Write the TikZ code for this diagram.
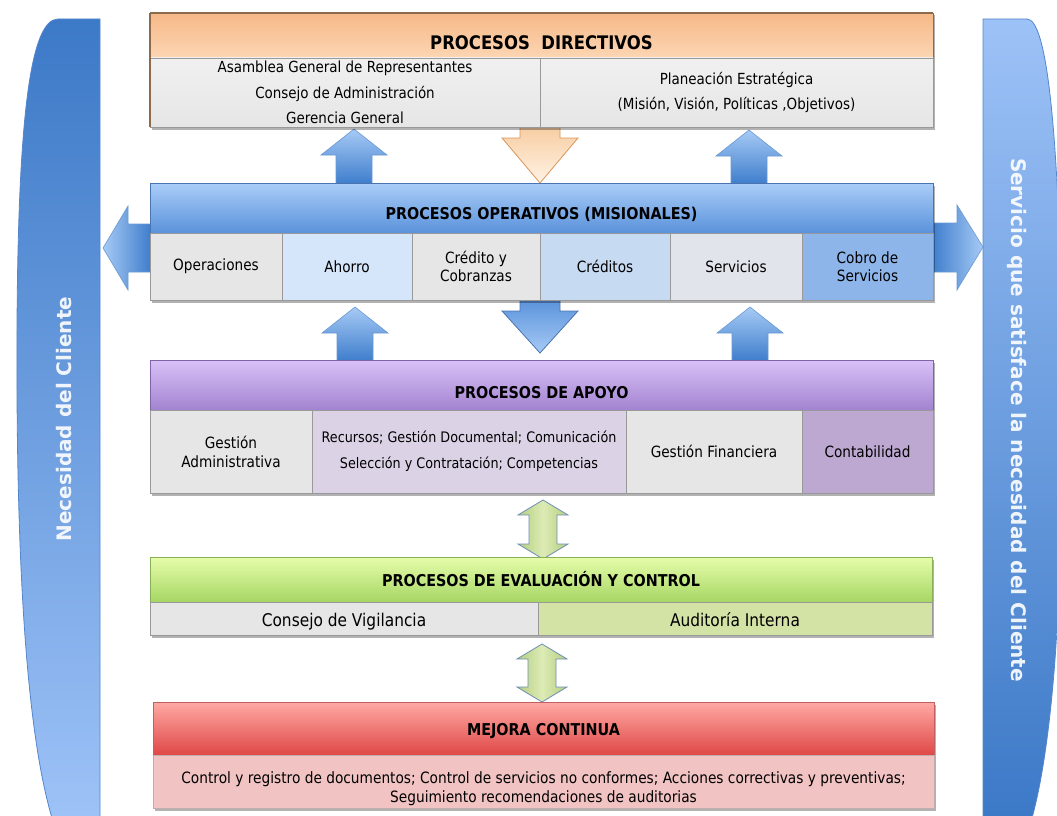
\documentclass[tikz,border=0pt]{standalone}
\usepackage{fontspec}
\setmainfont{DejaVu Sans}[FakeStretch=0.88]
\newfontfamily\sidefont{DejaVu Sans}
\usetikzlibrary{shadows}

% palette
\definecolor{dirTop}{HTML}{F6B887}
\definecolor{dirBot}{HTML}{FCD6B4}
\definecolor{dirRim}{HTML}{8B6B4E}
\definecolor{opTop}{HTML}{AACDF8}
\definecolor{opBot}{HTML}{5A92DB}
\definecolor{opRim}{HTML}{4A74B0}
\definecolor{apTop}{HTML}{D9C1F8}
\definecolor{apBot}{HTML}{A283CF}
\definecolor{apRim}{HTML}{7F64A8}
\definecolor{evTop}{HTML}{E6FDAA}
\definecolor{evBot}{HTML}{A6D664}
\definecolor{evRim}{HTML}{8AAE5A}
\definecolor{mcTop}{HTML}{FFA9A5}
\definecolor{mcBot}{HTML}{DF4846}
\definecolor{mcRim}{HTML}{C06060}
\definecolor{cellGray}{HTML}{E6E6E6}
\definecolor{cellAhorro}{HTML}{D6E6FA}
\definecolor{cellCred}{HTML}{C6DAF2}
\definecolor{cellServ}{HTML}{E1E5EB}
\definecolor{cellCobro}{HTML}{8EB5E9}
\definecolor{cellRec}{HTML}{DCD2E6}
\definecolor{cellCont}{HTML}{BDA8D2}
\definecolor{cellAud}{HTML}{D3E2A5}
\definecolor{cellMej}{HTML}{F2C3C3}
\definecolor{bandDark}{HTML}{3C79C7}
\definecolor{bandLight}{HTML}{9DC2F7}
\definecolor{bandRim}{HTML}{5586CC}
\definecolor{arrLight}{HTML}{A6CAF5}
\definecolor{arrDark}{HTML}{3E7DCC}
\definecolor{arrRim}{HTML}{6A98D4}
\definecolor{grnLight}{HTML}{DDEBB5}
\definecolor{grnDark}{HTML}{B5CE80}
\definecolor{grnRim}{HTML}{6F8FB5}
\definecolor{crmTop}{HTML}{F7CDA2}
\definecolor{crmBot}{HTML}{FFF2E4}
\definecolor{crmRim}{HTML}{D9955A}

\tikzset{
  every node/.style={inner sep=0pt, outer sep=0pt},
  cellbox/.style={draw=black!40, line width=0.8pt, anchor=north west, align=center,
    font=\fontsize{15.5}{18}\selectfont,
    drop shadow={shadow xshift=2pt, shadow yshift=-2.5pt, opacity=0.3, fill=black}},
  hdr/.style n args={3}{top color=#1, bottom color=#2, draw=#3, line width=0.8pt,
    anchor=north west, font=\bfseries\fontsize{16.3}{18}\selectfont, text depth=0pt,
    drop shadow={shadow xshift=2pt, shadow yshift=-2.5pt, opacity=0.3, fill=black}},
  uparr/.style={top color=arrLight, bottom color=arrDark, draw=arrRim, line width=0.6pt},
  grnarr/.style={left color=grnDark, right color=grnDark, middle color=grnLight, draw=grnRim, line width=0.8pt},
  sidetext/.style={text=white, text opacity=0.9, font=\sidefont\bfseries\fontsize{20}{23}\selectfont}
}

% block arrow pointing up: centre x, tip y, base y, style
\newcommand\ArrUp[4]{%
  \path[#4] (#1,#2) -- ({#1+33},{#2+26}) -- ({#1+18},{#2+26}) -- ({#1+18},#3)
    -- ({#1-18},#3) -- ({#1-18},{#2+26}) -- ({#1-33},{#2+26}) -- cycle;}
% block arrow pointing down: centre x, top y, tip y, style
\newcommand\ArrDown[4]{%
  \path[#4] ({#1-20},#2) -- ({#1+20},#2) -- ({#1+20},{#2+12}) -- ({#1+38},{#2+12})
    -- (#1,#3) -- ({#1-38},{#2+12}) -- ({#1-20},{#2+12}) -- cycle;}
% double block arrow: centre x, top tip y, bottom tip y, style
\newcommand\ArrBoth[4]{%
  \path[#4] (#1,#2) -- ({#1+25},{#2+15}) -- ({#1+14},{#2+15}) -- ({#1+14},{#3-15})
    -- ({#1+25},{#3-15}) -- (#1,#3) -- ({#1-25},{#3-15}) -- ({#1-14},{#3-15})
    -- ({#1-14},{#2+15}) -- ({#1-25},{#2+15}) -- cycle;}

\begin{document}
\begin{tikzpicture}[x=1pt,y=-1pt]
\useasboundingbox (0,0) rectangle (1057,816);

% side bands
\begin{scope}
  \clip (0,0) rectangle (1057,816);
  \path[top color=bandDark, bottom color=bandLight, draw=bandRim, line width=0.8pt]
    (100,19) -- (58,19) .. controls (30,19) and (18,120) .. (17,330)
    .. controls (16,560) and (26,730) .. (52,818) -- (100,818) -- cycle;
  \path[top color=bandLight, bottom color=bandDark, draw=bandRim, line width=0.8pt]
    (983,19) -- (1027,19) .. controls (1046,19) and (1058,120) .. (1062,330)
    .. controls (1065,560) and (1056,730) .. (1032,818) -- (983,818) -- cycle;
\end{scope}
\node[sidetext, rotate=90] (needL) at (64,419) {Necesidad del Cliente};
\node[sidetext, rotate=-90] (needR) at (1017,420) {Servicio que satisface la necesidad del Cliente};

% block arrows between the process levels
\ArrUp{354}{129}{184}{uparr}
\ArrUp{749}{130}{184}{uparr}
\ArrUp{355}{307}{361}{uparr}
\ArrUp{750}{307}{361}{uparr}
\ArrDown{540}{126}{183}{top color=crmTop, bottom color=crmBot, draw=crmRim, line width=0.8pt}
\ArrDown{540}{299}{353}{top color=opBot, bottom color=arrLight, draw=opRim, line width=0.8pt}
\path[left color=arrLight, right color=arrDark, draw=arrRim, line width=0.6pt]
  (103,248) -- (128,206) -- (128,224) -- (151,224) -- (151,272) -- (128,272) -- (128,290) -- cycle;
\path[left color=arrDark, right color=arrLight, draw=arrRim, line width=0.6pt]
  (983,247) -- (957,205) -- (957,223) -- (932,223) -- (932,272) -- (957,272) -- (957,290) -- cycle;
\ArrBoth{543}{500}{559}{grnarr}
\ArrBoth{542}{644}{702}{grnarr}

% PROCESOS DIRECTIVOS
\node[hdr={dirTop}{dirBot}{dirRim}, minimum width=783pt, minimum height=45pt, text height=28pt,
  font=\bfseries\fontsize{18.7}{20}\selectfont] (dirH) at (150,13) {PROCESOS\ \ DIRECTIVOS};
\node[cellbox, top color=cellGray!60!white, bottom color=cellGray, minimum width=390pt, minimum height=69pt,
  font=\fontsize{15.3}{25.5}\selectfont] (dirL) at (150,58)
  {Asamblea General de Representantes\\Consejo de Administración\\Gerencia General};
\node[cellbox, top color=cellGray!60!white, bottom color=cellGray, minimum width=393pt, minimum height=69pt,
  font=\fontsize{15.3}{25.5}\selectfont] (dirR) at (540,58)
  {Planeación Estratégica\\(Misión, Visión, Políticas ,Objetivos)};
\draw[dirRim, line width=1.2pt] (dirH.north west) -- (dirH.north east);
\draw[dirRim, line width=1.2pt] (dirH.north west) -- (dirL.south west);

% PROCESOS OPERATIVOS
\node[hdr={opTop}{opBot}{opRim}, minimum width=783pt, minimum height=50pt, text height=22pt] (opH) at (150,183)
  {PROCESOS OPERATIVOS (MISIONALES)};
\node[cellbox, fill=cellGray, minimum width=132pt, minimum height=67pt] (op1) at (150,233) {Operaciones};
\node[cellbox, fill=cellAhorro, minimum width=130pt, minimum height=67pt] (op2) at (282,233) {Ahorro};
\node[cellbox, fill=cellGray, minimum width=128pt, minimum height=67pt] (op3) at (412,233) {Crédito y\\Cobranzas};
\node[cellbox, fill=cellCred, minimum width=130pt, minimum height=67pt] (op4) at (540,233) {Créditos};
\node[cellbox, fill=cellServ, minimum width=132pt, minimum height=67pt] (op5) at (670,233) {Servicios};
\node[cellbox, fill=cellCobro, minimum width=131pt, minimum height=67pt] (op6) at (802,233) {Cobro de\\Servicios};

% PROCESOS DE APOYO
\node[hdr={apTop}{apBot}{apRim}, minimum width=783pt, minimum height=50pt, text height=27pt] (apH) at (150,360)
  {PROCESOS DE APOYO};
\node[cellbox, fill=cellGray, minimum width=162pt, minimum height=83pt,
  font=\fontsize{15.5}{19}\selectfont] (ap1) at (150,410) {Gestión\\Administrativa};
\node[cellbox, fill=cellRec, minimum width=314pt, minimum height=83pt,
  font=\fontsize{14.5}{26}\selectfont] (ap2) at (312,410)
  {Recursos; Gestión Documental; Comunicación\\Selección y Contratación; Competencias};
\node[cellbox, fill=cellGray, minimum width=176pt, minimum height=83pt] (ap3) at (626,410) {Gestión Financiera};
\node[cellbox, fill=cellCont, minimum width=131pt, minimum height=83pt] (ap4) at (802,410) {Contabilidad};

% PROCESOS DE EVALUACION Y CONTROL
\node[hdr={evTop}{evBot}{evRim}, minimum width=782pt, minimum height=45pt, text height=13pt] (evH) at (150,557)
  {PROCESOS DE EVALUACIÓN Y CONTROL};
\node[cellbox, fill=cellGray, minimum width=388pt, minimum height=33pt, text height=18pt, text depth=2pt,
  font=\fontsize{17.5}{20}\selectfont] (ev1) at (150,602) {Consejo de Vigilancia};
\node[cellbox, fill=cellAud, minimum width=394pt, minimum height=33pt, text height=18pt, text depth=2pt,
  font=\fontsize{17.5}{20}\selectfont] (ev2) at (538,602) {Auditoría Interna};

% MEJORA CONTINUA
\node[hdr={mcTop}{mcBot}{mcRim}, minimum width=781pt, minimum height=53pt, text height=13pt] (mcH) at (153,702)
  {MEJORA CONTINUA};
\node[cellbox, fill=cellMej, draw=mcRim!50!black!40, minimum width=781pt, minimum height=53pt] (mcB) at (153,755) {};
\node[align=center, font=\fontsize{15.6}{19}\selectfont] (mcT) at ([yshift=-7pt]mcB.center)
  {Control y registro de documentos; Control de servicios no conformes; Acciones correctivas y preventivas;\\Seguimiento recomendaciones de auditorias};

\end{tikzpicture}
\end{document}
